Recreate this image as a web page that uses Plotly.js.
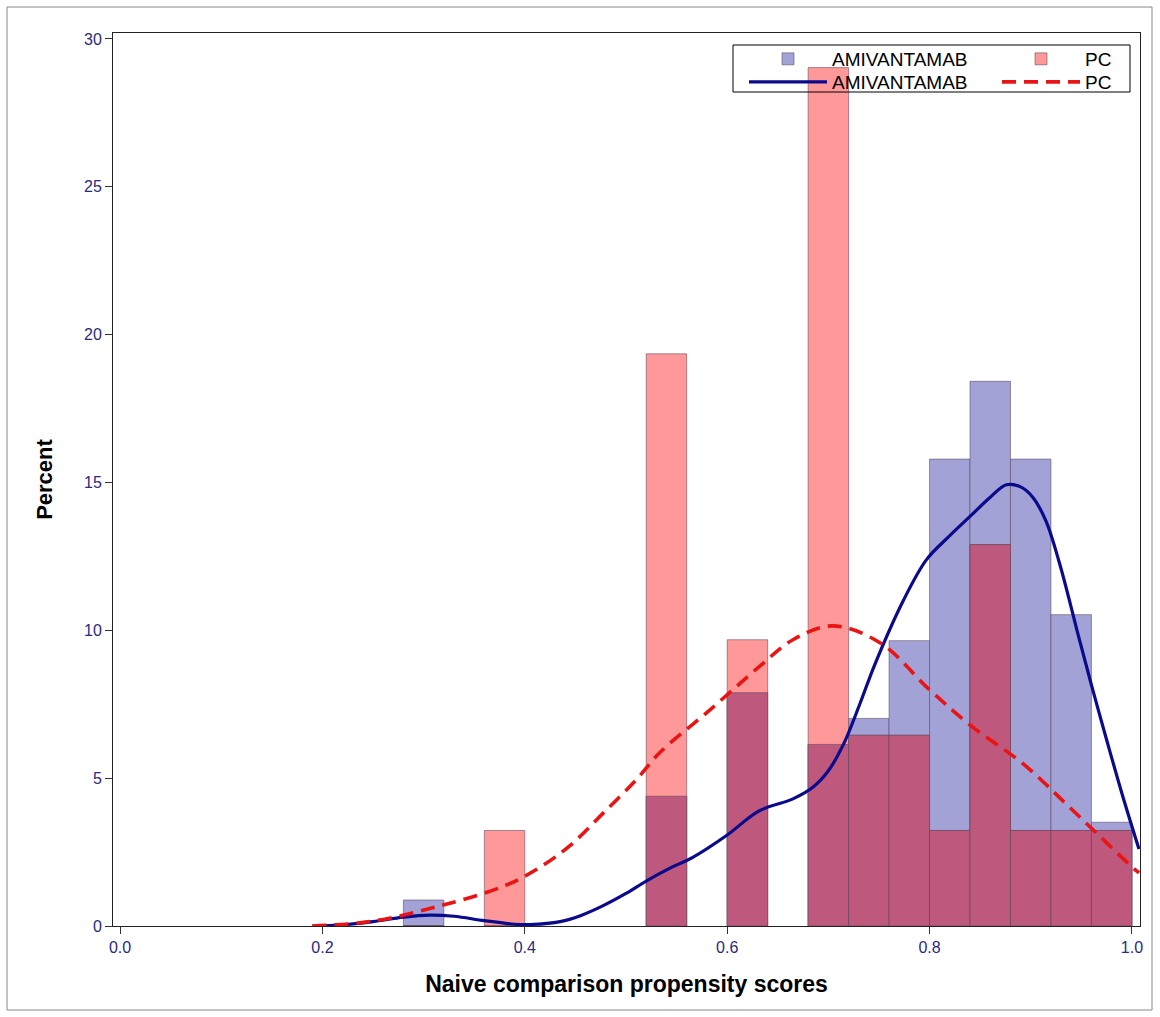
<!DOCTYPE html>
<html>
<head>
<meta charset="utf-8">
<script src="https://cdn.plot.ly/plotly-3.0.1.min.js"></script>
<style>
  html, body { margin: 0; padding: 0; background: #fff; }
  #chart { width: 1160px; height: 1017px; }
</style>
</head>
<body>
<div id="chart"></div>
<script>
// ---- Data ----
const binCenters = [0.30, 0.38, 0.54, 0.62, 0.70, 0.74, 0.78, 0.82, 0.86, 0.90, 0.94, 0.98];
const amivPct    = [0.88, 0.00, 4.39, 7.89, 6.14, 7.02, 9.65, 15.79, 18.42, 15.79, 10.53, 3.51];
const pcPct      = [0.00, 3.23, 19.35, 9.68, 29.03, 6.45, 6.45, 3.23, 12.90, 3.23, 3.23, 3.23];

const amivKdeX = [0.19, 0.22, 0.25, 0.28, 0.306, 0.33, 0.36, 0.39, 0.405, 0.435, 0.455, 0.477, 0.50, 0.52, 0.543, 0.566, 0.599, 0.632, 0.665, 0.685, 0.70, 0.715, 0.731, 0.746, 0.774, 0.797, 0.82, 0.84, 0.86, 0.876, 0.89, 0.902, 0.915, 0.929, 0.948, 0.962, 0.975, 0.99, 1.007];
const amivKdeY = [0.00, 0.04, 0.15, 0.30, 0.37, 0.33, 0.18, 0.06, 0.05, 0.15, 0.35, 0.68, 1.10, 1.52, 1.95, 2.32, 3.05, 3.90, 4.30, 4.70, 5.25, 6.15, 7.50, 8.85, 11.00, 12.39, 13.20, 13.85, 14.50, 14.92, 14.85, 14.50, 13.70, 12.20, 9.70, 7.90, 6.30, 4.50, 2.60];

const pcKdeX = [0.19, 0.247, 0.313, 0.378, 0.411, 0.444, 0.477, 0.51, 0.533, 0.583, 0.632, 0.665, 0.704, 0.751, 0.80, 0.842, 0.892, 0.941, 1.0, 1.007];
const pcKdeY = [0.00, 0.15, 0.65, 1.33, 1.90, 2.70, 3.80, 4.94, 5.85, 7.31, 8.78, 9.68, 10.15, 9.58, 7.99, 6.74, 5.50, 3.93, 2.00, 1.80];

const xTickVals = [0.0, 0.2, 0.4, 0.6, 0.8, 1.0];
const yTickVals = [0, 5, 10, 15, 20, 25, 30];
const seriesNames = ['AMIVANTAMAB', 'PC'];
const xTitle = 'Naive comparison propensity scores';
const yTitle = 'Percent';

// overlap of the two histograms (drawn from the data)
const overlapPct = amivPct.map((v, i) => Math.min(v, pcPct[i]));

const FONT = 'Liberation Sans, Arial, sans-serif';
const BLUE_BAR = 'rgb(162,162,215)';
const RED_BAR = 'rgb(255,152,152)';
const OVERLAP = 'rgb(190,88,124)';
const barLine = { color: 'rgba(90,70,90,0.55)', width: 1 };

const traces = [
  { type: 'bar', x: binCenters, y: amivPct, width: 0.04, name: seriesNames[0],
    marker: { color: BLUE_BAR, line: barLine }, legend: 'legend', hoverinfo: 'x+y' },
  { type: 'bar', x: binCenters, y: pcPct, width: 0.04, name: seriesNames[1],
    marker: { color: RED_BAR, line: barLine }, legend: 'legend2', hoverinfo: 'x+y' },
  { type: 'bar', x: binCenters, y: overlapPct, width: 0.04, name: 'overlap',
    marker: { color: OVERLAP, line: barLine }, showlegend: false, hoverinfo: 'skip' },
  { type: 'scatter', mode: 'lines', x: amivKdeX, y: amivKdeY, name: seriesNames[0],
    line: { color: 'rgb(10,10,140)', width: 3.2, shape: 'spline', smoothing: 1 }, legend: 'legend3' },
  { type: 'scatter', mode: 'lines', x: pcKdeX, y: pcKdeY, name: seriesNames[1],
    line: { color: 'rgb(235,20,20)', width: 3.6, dash: '14px,8px', shape: 'spline', smoothing: 1 }, legend: 'legend4' }
];

// plot area spans pixels 113..1140 (x) and 33..926 (y)
const px = p => (p - 113) / 1027;
const py = p => (926 - p) / 893;

const legendCommon = {
  orientation: 'v', xanchor: 'left', yanchor: 'top',
  bgcolor: 'rgba(0,0,0,0)', borderwidth: 0,
  font: { family: FONT, size: 19, color: '#000' },
  itemwidth: 78, itemclick: false, itemdoubleclick: false
};
const row1 = py(40), row2 = py(63);
const col1 = px(744), col2 = px(997);

const layout = {
  width: 1160, height: 1017,
  margin: { l: 113, r: 20, t: 33, b: 91 },
  paper_bgcolor: '#fff', plot_bgcolor: '#fff',
  barmode: 'overlay', bargap: 0,
  showlegend: true,
  legend:  Object.assign({}, legendCommon, { x: col1, y: row1 }),
  legend2: Object.assign({}, legendCommon, { x: col2, y: row1 }),
  legend3: Object.assign({}, legendCommon, { x: col1, y: row2 }),
  legend4: Object.assign({}, legendCommon, { x: col2, y: row2 }),
  xaxis: {
    range: [-0.007, 1.008], tickvals: xTickVals, tickformat: '.1f',
    ticks: 'outside', ticklen: 7, tickwidth: 1, tickcolor: '#333',
    showline: true, linecolor: '#222', linewidth: 1, mirror: true,
    showgrid: false, zeroline: false,
    tickfont: { family: FONT, size: 16, color: '#2a2a80' },
    title: { text: xTitle, standoff: 20, font: { family: FONT, size: 23, color: '#000', weight: 'bold' } }
  },
  yaxis: {
    range: [0, 30.2], tickvals: yTickVals,
    ticks: 'outside', ticklen: 7, tickwidth: 1, tickcolor: '#333',
    showline: true, linecolor: '#222', linewidth: 1, mirror: true,
    showgrid: false, zeroline: false,
    tickfont: { family: FONT, size: 16, color: '#2a2a80' },
    title: { text: yTitle, standoff: 25, font: { family: FONT, size: 22, color: '#000', weight: 'bold' } }
  },
  shapes: [
    { type: 'rect', xref: 'paper', yref: 'paper', x0: px(733), x1: px(1130), y0: py(92), y1: py(45),
      line: { color: '#000', width: 1 }, fillcolor: 'rgba(0,0,0,0)', layer: 'above' },
    { type: 'rect', xref: 'paper', yref: 'paper', x0: px(7), x1: px(1152), y0: py(1010), y1: py(7),
      line: { color: '#888', width: 1 }, fillcolor: 'rgba(0,0,0,0)', layer: 'below' }
  ]
};

Plotly.newPlot('chart', traces, layout, { displayModeBar: false, staticPlot: true });
</script>
</body>
</html>
